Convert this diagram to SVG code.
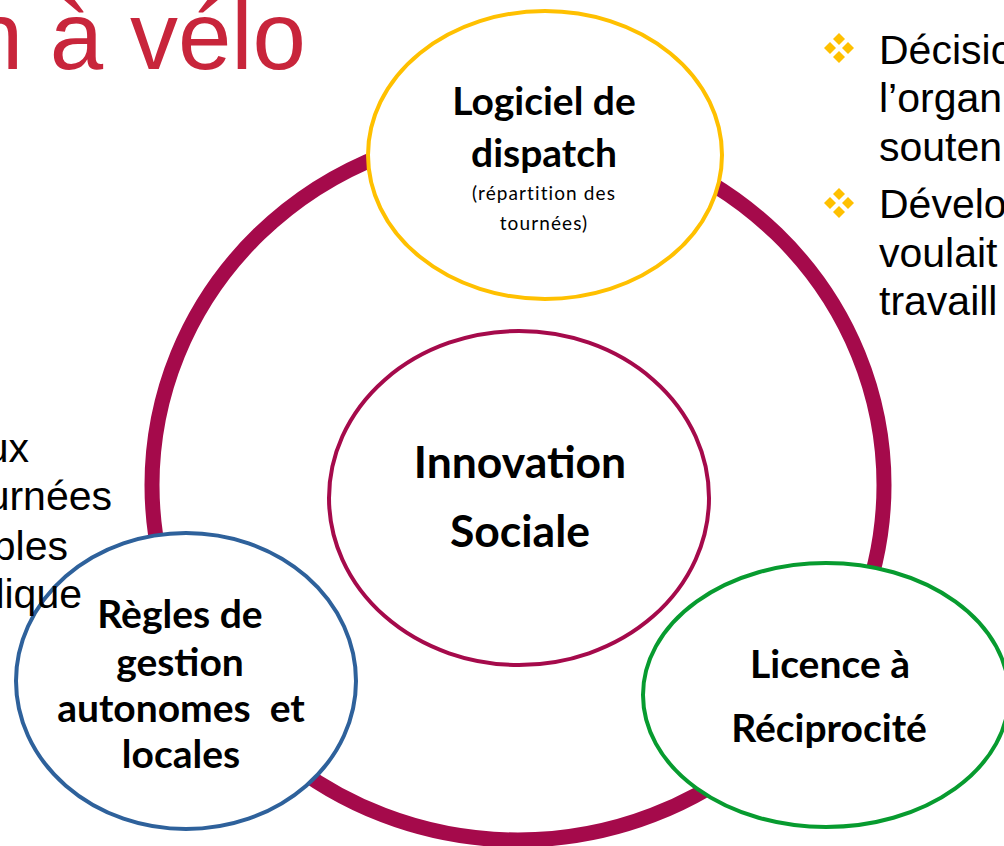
<svg xmlns="http://www.w3.org/2000/svg" width="1004" height="846" viewBox="0 0 1004 846">
<defs>
<style>
.bg{fill:#ffffff}
.ring{fill:none;stroke:#A50A4B;stroke-width:15}
.node{fill:#ffffff;stroke-width:4}
.lbl{font-family:Lato,"Open Sans",sans-serif;font-weight:bold;fill:#000000;text-anchor:middle}
.small{font-family:Lato,"Open Sans",sans-serif;font-size:19px;fill:#000000;text-anchor:middle;letter-spacing:1.1px}
.body{font-family:"Liberation Sans",Arial,sans-serif;font-size:41px;fill:#000000}
.title{font-family:"Liberation Sans",Arial,sans-serif;font-size:96px;fill:#C8253B;text-anchor:end}
.dia{fill:#FFC000}
</style>
<g id="bullet">
<polygon class="dia" points="0,-15 6,-9 0,-3 -6,-9"/>
<polygon class="dia" points="0,3 6,9 0,15 -6,9"/>
<polygon class="dia" points="-9,-6 -3,0 -9,6 -15,0"/>
<polygon class="dia" points="9,-6 15,0 9,6 3,0"/>
</g>
</defs>
<rect class="bg" x="0" y="0" width="1004" height="846"/>

<text class="title" x="306" y="69">n à vélo</text>

<g id="connectors">
<ellipse class="ring" cx="518" cy="485" rx="366" ry="355"/>
</g>

<g id="node-innovation">
<ellipse class="node" cx="519" cy="498" rx="190" ry="167" stroke="#A50A4B" stroke-width="3.5"/>
<text class="lbl" x="520" y="478" font-size="44.5">Innovation</text>
<text class="lbl" x="520" y="547" font-size="44.5">Sociale</text>
</g>

<g id="node-logiciel">
<ellipse class="node" cx="545" cy="155" rx="177" ry="144" stroke="#FFC000"/>
<text class="lbl" x="544" y="115" font-size="39">Logiciel de</text>
<text class="lbl" x="544" y="167" font-size="39">dispatch</text>
<text class="small" x="544" y="200">(répartition des</text>
<text class="small" x="544" y="230">tournées)</text>
</g>

<g id="node-regles">
<ellipse class="node" cx="186" cy="681" rx="170" ry="148" stroke="#2E619B"/>
<text class="lbl" x="180" y="628" font-size="39">Règles de</text>
<text class="lbl" x="180" y="676" font-size="39">gestion</text>
<text class="lbl" x="181" y="722" font-size="39" style="white-space:pre">autonomes  et</text>
<text class="lbl" x="181" y="768" font-size="39">locales</text>
</g>

<g id="node-licence">
<ellipse class="node" cx="826" cy="695" rx="183" ry="132" stroke="#079B2F"/>
<text class="lbl" x="830" y="678" font-size="39">Licence à</text>
<text class="lbl" x="829" y="742" font-size="39">Réciprocité</text>
</g>

<g id="left-text">
<text class="body" x="29" y="462" text-anchor="end">ux</text>
<text class="body" x="112" y="510" text-anchor="end">urnées</text>
<text class="body" x="68" y="560" text-anchor="end">bles</text>
<text class="body" x="82" y="608" text-anchor="end">lique</text>
</g>

<g id="right-text">
<use href="#bullet" x="839" y="48"/>
<use href="#bullet" x="839" y="203"/>
<text class="body" x="879" y="64">Décisio</text>
<text class="body" x="879" y="112">l’organ</text>
<text class="body" x="879" y="161">souten</text>
<text class="body" x="879" y="218">Dévelo</text>
<text class="body" x="879" y="267">voulait</text>
<text class="body" x="879" y="315">travaill</text>
</g>
</svg>
